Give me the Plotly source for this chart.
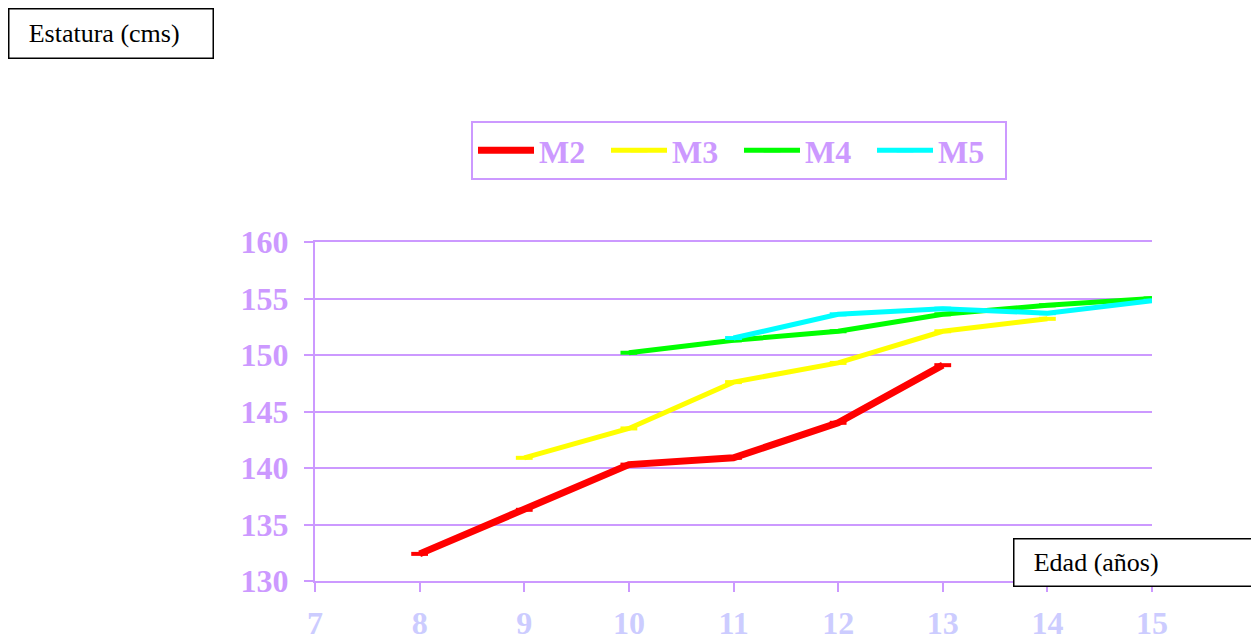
import plotly.graph_objects as go

x_ticks = [7, 8, 9, 10, 11, 12, 13, 14, 15]
y_ticks = [130, 135, 140, 145, 150, 155, 160]

m2_x = [8, 9, 10, 11, 12, 13]
m2_y = [132.4, 136.3, 140.3, 140.9, 144.0, 149.1]
m3_x = [9, 10, 11, 12, 13, 14]
m3_y = [140.9, 143.5, 147.6, 149.3, 152.1, 153.2]
m4_x = [10, 11, 12, 13, 14, 15]
m4_y = [150.2, 151.3, 152.1, 153.6, 154.4, 155.0]
m5_x = [11, 12, 13, 14, 15]
m5_y = [151.5, 153.6, 154.1, 153.7, 154.8]

series = [
    ("M2", m2_x, m2_y, "#FF0000", 7),
    ("M3", m3_x, m3_y, "#FFFF00", 5),
    ("M4", m4_x, m4_y, "#00FF00", 5),
    ("M5", m5_x, m5_y, "#00FFFF", 5),
]

purple = "#CC99FF"
light = "#CCCCFF"
serif = "Liberation Serif"

L, T, PW, PH = 307, 234, 837, 339
W, H = 1259, 636

fig = go.Figure()
for name, xs, ys, col, w in series:
    fig.add_trace(go.Scatter(
        x=xs, y=ys, name=name, mode="lines+markers",
        line=dict(color=col, width=w),
        marker=dict(symbol="line-ew", size=12, color=col,
                    line=dict(color=col, width=4)),
    ))

def px(xf):
    return (xf - L) / PW

def py(yf):
    return (T + PH - yf) / PH

fig.update_layout(
    width=W, height=H,
    margin=dict(l=L, r=W - L - PW, t=T, b=H - T - PH, autoexpand=False),
    plot_bgcolor="white", paper_bgcolor="white",
    showlegend=True,
    legend=dict(
        orientation="h",
        x=px(471 - 8), xanchor="left",
        y=py(121 - 8), yanchor="top",
        bordercolor=purple, borderwidth=2,
        font=dict(family=serif, size=32, color=purple, weight="bold"),
        itemwidth=56,
        entrywidth=62, entrywidthmode="pixels",
    ),
    xaxis=dict(
        range=[7, 15], tickvals=x_ticks, ticktext=[str(v) for v in x_ticks],
        showgrid=False, zeroline=False, automargin=False,
        showline=True, mirror=True, linecolor=purple, linewidth=2,
        ticks="outside", ticklen=9, tickwidth=2, tickcolor=purple,
        ticklabelstandoff=4,
        tickfont=dict(family=serif, size=32, color=light, weight="bold"),
    ),
    yaxis=dict(
        range=[130, 160], tickvals=y_ticks, automargin=False,
        showgrid=True, gridcolor=purple, gridwidth=2,
        zeroline=False, showline=True, linecolor=purple, linewidth=2,
        ticks="outside", ticklen=9, tickwidth=2, tickcolor=purple,
        ticklabelstandoff=9,
        tickfont=dict(family=serif, size=32, color=purple, weight="bold"),
    ),
    annotations=[
        dict(text="\u2002\u2009Estatura (cms)", xref="paper", yref="paper",
             x=px(0), y=py(0), xanchor="left", yanchor="top",
             showarrow=False, align="left",
             font=dict(family=serif, size=26, color="black"),
             bordercolor="black", borderwidth=1.5, bgcolor="white",
             width=201, height=46, borderpad=1),
        dict(text="\u2002\u2009Edad (años)", xref="paper", yref="paper",
             x=px(1013 - 8), y=py(538 - 8), xanchor="left", yanchor="top",
             showarrow=False, align="left",
             font=dict(family=serif, size=26, color="black"),
             bordercolor="black", borderwidth=1.5, bgcolor="white",
             width=280, height=44, borderpad=1),
    ],
)

fig.write_html("out.html")
